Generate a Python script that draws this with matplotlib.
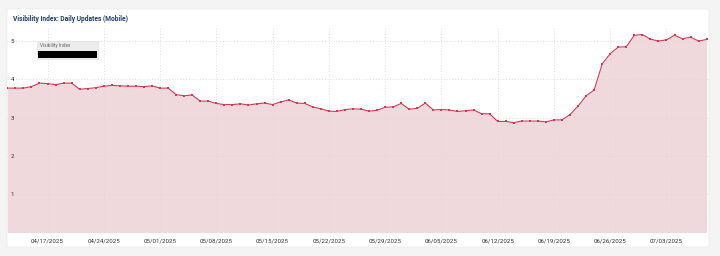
import matplotlib
matplotlib.use("Agg")
import matplotlib.pyplot as plt
import matplotlib.dates as mdates
from matplotlib.patches import Rectangle, FancyBboxPatch
import pandas as pd
import numpy as np

# ---- data ----
start_date = "2025-04-12"
values = [3.77, 3.77, 3.77, 3.81, 3.90, 3.89, 3.86, 3.90, 3.90, 3.74,
          3.76, 3.78, 3.82, 3.84, 3.83, 3.82, 3.82, 3.81, 3.83, 3.77,
          3.77, 3.60, 3.57, 3.59, 3.43, 3.43, 3.37, 3.34, 3.34, 3.36,
          3.33, 3.36, 3.38, 3.34, 3.41, 3.46, 3.38, 3.37, 3.28, 3.23,
          3.17, 3.16, 3.21, 3.23, 3.22, 3.17, 3.19, 3.27, 3.28, 3.37,
          3.22, 3.24, 3.38, 3.20, 3.21, 3.20, 3.16, 3.18, 3.20, 3.10,
          3.10, 2.90, 2.90, 2.87, 2.91, 2.91, 2.91, 2.89, 2.94, 2.94,
          3.08, 3.30, 3.57, 3.72, 4.40, 4.67, 4.84, 4.85, 5.15, 5.17,
          5.05, 5.00, 5.03, 5.15, 5.06, 5.10, 5.00, 5.04]
dates = pd.date_range(start_date, periods=len(values), freq="D")
xtick_dates = pd.date_range("2025-04-17", "2025-07-03", freq="7D")
ytick_values = [1, 2, 3, 4, 5]
title = "Visibility Index: Daily Updates (Mobile)"
series_name = "Visibility Index"

W, H = 720, 256
fig = plt.figure(figsize=(W / 100, H / 100), dpi=100)
fig.patch.set_facecolor("#f4f4f4")

def fx(px):
    return px / W

def fy(py):
    return 1 - py / H

# card
card = FancyBboxPatch((fx(7), fy(247)), fx(709) - fx(7), fy(9) - fy(247),
                      boxstyle="round,pad=0,rounding_size=0.003",
                      transform=fig.transFigure, facecolor="white",
                      edgecolor="#ececec", linewidth=0.6, zorder=-5)
fig.patches.append(card)

fig.text(fx(13), fy(19), title, fontsize=4.75, fontweight="bold",
         color="#1d3c6e", family=["Roboto", "DejaVu Sans"], va="center", ha="left")

ax_left, ax_right, ax_top, ax_bot = 7, 709, 28, 232.5
ax = fig.add_axes([fx(ax_left), fy(ax_bot), fx(ax_right) - fx(ax_left), fy(ax_top) - fy(ax_bot)])
ax.patch.set_alpha(0)

x = mdates.date2num(dates)
y = np.array(values)
ax.fill_between(x, y, 0, color="#f0d9dd", zorder=1, linewidth=0)
ax.plot(x, y, color="#d23b55", linewidth=0.8, marker="s", markersize=1.7,
        markeredgewidth=0, zorder=3)

ax.set_xlim(x[0] - 0.04, x[-1] + 0.29)
ax.set_ylim(0, 5.34)

for s in ax.spines.values():
    s.set_visible(False)

ax.set_xticks(mdates.date2num(xtick_dates))
ax.set_xticklabels([d.strftime("%m/%d/%Y") for d in xtick_dates])
ax.set_yticks(ytick_values)
ax.set_yticklabels([str(v) for v in ytick_values])
ax.tick_params(axis="x", length=0, pad=4, labelsize=4.4, labelcolor="#333333")
ax.tick_params(axis="y", length=0, pad=-2.6, labelsize=4.4, labelcolor="#333333")
for lbl in ax.get_yticklabels():
    lbl.set_horizontalalignment("left")
    lbl.set_family(["Roboto", "DejaVu Sans"])
for lbl in ax.get_xticklabels():
    lbl.set_family(["Roboto", "DejaVu Sans"])

ax.grid(True, linestyle=(0, (1.2, 2.2)), color="#e0d6d8", linewidth=0.6, zorder=2)

# partially visible next tick label, clipped by the card
nxt = pd.Timestamp("2025-07-10")
t = ax.text(mdates.date2num(nxt) - 0.15, -0.04, nxt.strftime("%m/%d/%Y"),
            transform=ax.get_xaxis_transform(), ha="center", va="top",
            fontsize=4.4, color="#333333", family=["Roboto", "DejaVu Sans"],
            clip_on=True)
t.set_clip_path(card)

# tooltip
tip = Rectangle((fx(37), fy(58.5)), fx(98) - fx(37), fy(41) - fy(58.5),
                transform=fig.transFigure, facecolor="#ececec",
                edgecolor="#dddddd", linewidth=0.4, zorder=5)
fig.patches.append(tip)
fig.text(fx(40.5), fy(45.5), series_name, fontsize=3.4, color="#666666",
         family=["Roboto", "DejaVu Sans"], va="center", ha="left", zorder=6)
bar = Rectangle((fx(38), fy(58)), fx(96.5) - fx(38), fy(50.5) - fy(58),
                transform=fig.transFigure, facecolor="black", linewidth=0, zorder=6)
fig.patches.append(bar)

fig.savefig("out.png", dpi=100, facecolor=fig.get_facecolor())
